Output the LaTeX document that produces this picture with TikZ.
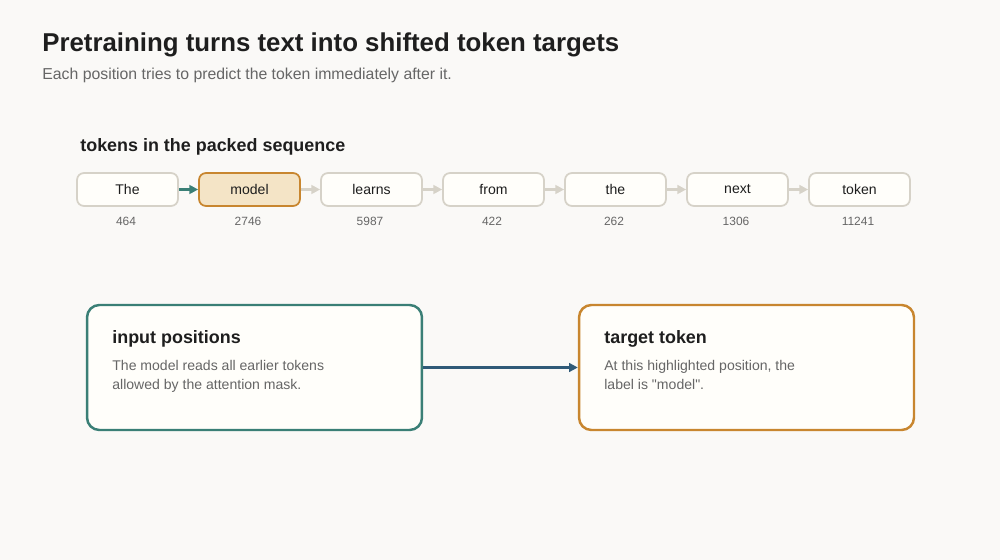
\documentclass[tikz,border=0pt]{standalone}
\usepackage{fontspec}
\setmainfont{Liberation Sans}
\usetikzlibrary{positioning,arrows.meta}
\definecolor{bgc}{HTML}{FAF9F7}
\definecolor{cardc}{HTML}{FFFEFA}
\definecolor{greyc}{HTML}{D6D2C8}
\definecolor{tealc}{HTML}{3A7F76}
\definecolor{orangec}{HTML}{C8862F}
\definecolor{hlc}{HTML}{F4E4C6}
\definecolor{linkc}{HTML}{2F5A78}
\definecolor{inkc}{HTML}{1E1E1E}
\definecolor{subc}{HTML}{666666}
\begin{document}
\begin{tikzpicture}[x=0.02cm,y=-0.02cm,%
% token boxes in the row:
token/.style = {draw=greyc, line width=1pt, fill=cardc, rounded corners=4pt,
            minimum width=2.02cm, minimum height=0.66cm, inner sep=0,
            font=\fontsize{8}{9}\selectfont, text=inkc},
% ids under the tokens:
tid/.style = {font=\fontsize{6.8}{8}\selectfont, text=subc},
% big cards:
card/.style = {draw, line width=1.4pt, fill=cardc, rounded corners=7pt,
            minimum width=6.7cm, minimum height=2.5cm, inner sep=0},
% headings placed by their west end:
head/.style = {anchor=west, inner sep=0, text=inkc},
link/.style = {-{Triangle[length=5pt,width=5pt]}, line width=1.3pt, greyc}]
\fill[bgc] (0,0) rectangle (1000,560);
\node[head, font=\bfseries\fontsize{14.7}{17}\selectfont] (title) at (42,45) {Pretraining turns text into shifted token targets};
\node[head, font=\fontsize{9}{11}\selectfont, text=subc] (sub) at (42,75) {Each position tries to predict the token immediately after it.};
\node[head, font=\bfseries\fontsize{10.2}{12}\selectfont] (rowlbl) at (80,147) {tokens in the packed sequence};
\node[token] (T1) at (127.5,189.5) {The};
\node[token, draw=orangec, fill=hlc] (T2) at (249.5,189.5) {model};
\node[token] (T3) at (371.5,189.5) {learns};
\node[token] (T4) at (493.5,189.5) {from};
\node[token] (T5) at (615.5,189.5) {the};
\node[token] (T6) at (737.5,189.5) {next};
\node[token] (T7) at (859.5,189.5) {token};
\node[tid] (N1) at (126,221) {464};
\node[tid] (N2) at (248,221) {2746};
\node[tid] (N3) at (370,221) {5987};
\node[tid] (N4) at (492,221) {422};
\node[tid] (N5) at (614,221) {262};
\node[tid] (N6) at (736,221) {1306};
\node[tid] (N7) at (858,221) {11241};
\draw[link, tealc] (T1.east) to (T2.west);
\foreach \a/\b in {2/3,3/4,4/5,5/6,6/7}
  \draw[link] (T\a.east) to (T\b.west);
\node[card, draw=tealc] (inp) at (254.5,367.5) {};
\node[card, draw=orangec] (tgt) at (746.5,367.5) {};
\node[head, font=\bfseries\fontsize{10.2}{12}\selectfont] (inpT) at (112,339) {input positions};
\node[anchor=north west, align=left, inner sep=0, font=\fontsize{8}{10.8}\selectfont, text=subc] (inpB) at (112,360) {The model reads all earlier tokens\\allowed by the attention mask.};
\node[head, font=\bfseries\fontsize{10.2}{12}\selectfont] (tgtT) at (604,339) {target token};
\node[anchor=north west, align=left, inner sep=0, font=\fontsize{8}{10.8}\selectfont, text=subc] (tgtB) at (604,360) {At this highlighted position, the\\label is \textquotedbl model\textquotedbl.};
\draw[link, linkc] (inp.east) to (tgt.west);
\end{tikzpicture}
\end{document}
